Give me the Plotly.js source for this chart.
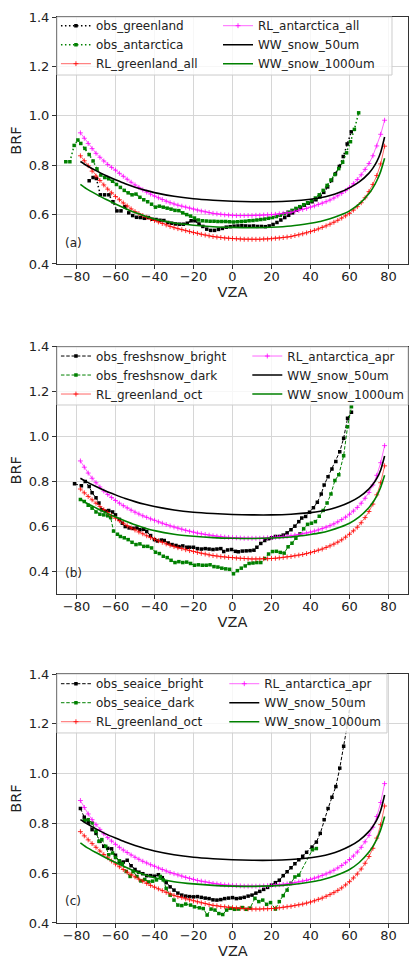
<!DOCTYPE html>
<html>
<head>
<meta charset="utf-8">
<script src="https://cdn.plot.ly/plotly-3.0.1.min.js"></script>
<style>
html,body{margin:0;padding:0;background:#ffffff;}
#chart{width:409px;height:959px;}
</style>
</head>
<body>
<div id="chart"></div>
<script>
// ---------------- DATA ----------------
const vza_ticks = [-80, -60, -40, -20, 0, 20, 40, 60, 80];
const brf_ticks = [0.4, 0.6, 0.8, 1.0, 1.2, 1.4];

// Model curves (WW)
const vza_ww = [-78,-75,-70,-65,-60,-55,-50,-45,-40,-30,-20,-10,0,10,20,30,40,45,50,55,60,65,70,72,74,76,78];
const ww_snow_50um = [0.815,0.800,0.778,0.758,0.741,0.725,0.711,0.699,0.689,0.674,0.664,0.658,0.654,0.652,0.652,0.655,0.662,0.668,0.677,0.690,0.708,0.732,0.768,0.788,0.814,0.852,0.914];
const ww_snow_1000um = [0.722,0.705,0.683,0.662,0.643,0.625,0.608,0.594,0.582,0.566,0.557,0.551,0.548,0.547,0.549,0.554,0.565,0.572,0.583,0.597,0.615,0.643,0.685,0.708,0.737,0.775,0.828];

// RL curves
const vza_rl = [-78,-76,-74,-72,-70,-68,-66,-64,-62,-60,-58,-56,-54,-52,-50,-48,-46,-44,-42,-40,-38,-36,-34,-32,-30,-28,-26,-24,-22,-20,-18,-16,-14,-12,-10,-8,-6,-4,-2,0,2,4,6,8,10,12,14,16,18,20,22,24,26,28,30,32,34,36,38,40,42,44,46,48,50,52,54,56,58,60,62,64,66,68,70,72,74,76,78];
const rl_greenland_all = [0.838,0.818,0.798,0.776,0.756,0.738,0.720,0.703,0.688,0.673,
  0.660,0.647,0.635,0.623,0.612,0.604,0.596,0.589,0.582,0.576,
  0.570,0.564,0.558,0.552,0.547,0.543,0.539,0.535,0.531,0.527,
  0.524,0.520,0.517,0.514,0.511,0.509,0.507,0.505,0.504,0.503,
  0.502,0.501,0.500,0.500,0.500,0.500,0.500,0.501,0.501,0.502,
  0.504,0.505,0.507,0.509,0.511,0.515,0.518,0.522,0.526,0.531,
  0.536,0.542,0.548,0.554,0.561,0.569,0.577,0.586,0.595,0.605,
  0.618,0.632,0.648,0.668,0.693,0.722,0.758,0.805,0.877];
const rl_antarctica_all = [0.931,0.909,0.888,0.867,0.848,0.832,0.817,0.803,0.791,0.780,
  0.767,0.755,0.743,0.731,0.720,0.710,0.700,0.691,0.683,0.675,
  0.668,0.661,0.654,0.648,0.643,0.638,0.634,0.630,0.626,0.622,
  0.618,0.614,0.611,0.608,0.605,0.603,0.601,0.599,0.598,0.597,
  0.596,0.596,0.596,0.596,0.596,0.597,0.597,0.598,0.599,0.600,
  0.601,0.603,0.605,0.607,0.609,0.613,0.617,0.621,0.625,0.630,
  0.635,0.641,0.646,0.652,0.659,0.667,0.676,0.686,0.697,0.710,
  0.725,0.742,0.761,0.783,0.807,0.838,0.878,0.925,0.982];
const rl_antarctica_apr = [0.892,0.864,0.838,0.815,0.795,0.776,0.758,0.743,0.729,0.716,
  0.704,0.693,0.683,0.673,0.664,0.656,0.648,0.641,0.634,0.628,
  0.621,0.615,0.609,0.603,0.598,0.593,0.588,0.583,0.579,0.575,
  0.571,0.568,0.565,0.562,0.559,0.557,0.555,0.553,0.552,0.551,
  0.550,0.549,0.548,0.548,0.548,0.548,0.548,0.549,0.550,0.551,
  0.552,0.554,0.555,0.557,0.559,0.562,0.565,0.568,0.571,0.575,
  0.580,0.585,0.591,0.597,0.604,0.612,0.621,0.631,0.642,0.655,
  0.669,0.685,0.704,0.726,0.752,0.785,0.828,0.884,0.960];
const rl_greenland_oct = [0.767,0.750,0.734,0.719,0.704,0.689,0.675,0.662,0.649,0.637,
  0.626,0.615,0.604,0.594,0.585,0.576,0.568,0.559,0.551,0.544,
  0.537,0.530,0.523,0.517,0.511,0.506,0.502,0.497,0.493,0.489,
  0.485,0.481,0.478,0.474,0.471,0.469,0.466,0.465,0.463,0.462,
  0.460,0.459,0.458,0.457,0.456,0.456,0.456,0.457,0.457,0.458,
  0.459,0.461,0.463,0.465,0.467,0.470,0.473,0.476,0.480,0.484,
  0.489,0.495,0.500,0.507,0.514,0.522,0.531,0.541,0.553,0.566,
  0.581,0.597,0.617,0.640,0.667,0.700,0.741,0.795,0.870];

// Observations, panel (a)
const vza_obs_greenland = [-73.5,-71.5,-69.8,-67.8,-65.6,-63.4,-61.3,-59.3,-57.2,
  -55.2,-53.2,-51.2,-49.2,-47.2,-45.2,-43.2,-41.2,-39.2,-37.2,-35.2,-33.2,-31.2,-29.2,-27.2,-25.2,-23.2,-21.2,-19.2,-17.2,-15.2,-13.2,-11.2,-9.2,-7.2,-5.2,-3.2,-1.2,
  0.8,2.8,4.8,6.8,8.8,10.8,12.8,14.8,16.8,18.8,20.8,22.8,24.8,26.8,28.8,30.8,32.8,34.8,36.8,38.8,40.8,42.8,44.8,46.8,48.8,50.8,52.8,54.8,56.8,58.8,
  60.9];
const obs_greenland = [0.737,0.750,0.746,0.680,0.680,0.680,0.652,0.615,0.615,
  0.632,0.607,0.596,0.589,0.588,0.585,0.588,0.581,0.580,0.577,0.576,0.568,0.565,0.562,0.561,0.561,0.565,0.575,0.575,0.562,0.552,0.541,0.536,0.536,0.540,0.544,0.549,0.551,
  0.553,0.554,0.555,0.554,0.553,0.554,0.552,0.552,0.551,0.554,0.560,0.568,0.578,0.588,0.597,0.607,0.618,0.628,0.638,0.646,0.652,0.660,0.672,0.690,0.712,0.738,0.765,0.795,0.835,0.886,
  0.935];
const vza_obs_antarctica = [-85.5,-83.4,-81.2,-79.3,-77.8,-75.7,-73.5,-71.5,
  -69.5,-67.5,-65.5,-63.5,-61.5,-59.5,-57.5,-55.5,-53.5,-51.5,-49.5,-47.5,-45.5,-43.5,-41.5,-39.5,-37.5,-35.5,-33.5,-31.5,-29.5,-27.5,-25.5,-23.5,-21.5,-19.5,-17.5,-15.5,-13.5,-11.5,-9.5,-7.5,-5.5,-3.5,-1.5,
  0.5,2.5,4.5,6.5,8.5,10.5,12.5,14.5,16.5,18.5,20.5,22.5,24.5,26.5,28.5,30.5,32.5,34.5,36.5,38.5,40.5,42.5,44.5,46.5,48.5,50.5,52.5,54.5,56.5,58.5,60.5,62.5,
  64.7];
const obs_antarctica = [0.814,0.814,0.880,0.902,0.888,0.868,0.843,0.817,
  0.785,0.760,0.750,0.745,0.735,0.722,0.710,0.698,0.688,0.680,0.683,0.670,0.660,0.652,0.642,0.630,0.634,0.630,0.626,0.622,0.617,0.616,0.607,0.600,0.594,0.586,0.578,0.575,0.574,0.573,0.573,0.572,0.572,0.572,0.571,
  0.570,0.571,0.572,0.573,0.575,0.576,0.578,0.580,0.582,0.585,0.588,0.592,0.597,0.603,0.610,0.617,0.625,0.632,0.640,0.648,0.656,0.667,0.680,0.698,0.718,0.740,0.762,0.786,0.812,0.850,0.895,0.945,
  1.012];

// Observations, panel (b)
const vza_obs_freshsnow_bright = [-81,-77.5,-75.5,-73.5,-72,-70,-68.5,-67,-65,-63.5,
  -61.5,-60,-58,-56.5,-55,-53,-51,-49,-47.5,-45.5,
  -44,-42,-40,-38.5,-36.5,-35,-33,-31,-29,-27.5,
  -25.5,-23.5,-22,-20,-18,-16,-14,-12,-10,-8,
  -6,-4.5,-2.5,-0.5,1.5,3,5,7,9,11,
  12.5,14.5,16.5,18.5,20,22,24,26,28,30,
  32,34,35.5,37.5,39.5,41.5,43.5,45.5,47,49,
  51,53,55,57,59,61];
const obs_freshsnow_bright = [0.790,0.782,0.800,0.778,0.750,0.728,0.705,0.675,0.668,0.672,
  0.665,0.652,0.632,0.615,0.600,0.594,0.592,0.594,0.586,0.588,
  0.578,0.560,0.542,0.536,0.540,0.538,0.527,0.520,0.516,0.511,
  0.514,0.508,0.508,0.508,0.502,0.500,0.502,0.500,0.498,0.500,
  0.502,0.489,0.496,0.498,0.490,0.488,0.491,0.492,0.493,0.495,
  0.508,0.525,0.538,0.546,0.550,0.556,0.556,0.562,0.572,0.586,
  0.602,0.622,0.638,0.645,0.664,0.684,0.708,0.745,0.785,0.822,
  0.856,0.889,0.933,0.993,1.082,1.108];
const vza_obs_freshsnow_dark = [-78,-76,-74,-72,-70,-68,-66,-64,-62.5,-61,
  -59,-57.5,-55.5,-53.5,-51.5,-49.5,-47.5,-45.5,-43.5,-41.5,
  -39.5,-37.5,-35.5,-33.5,-31.5,-29.5,-27.5,-25.5,-23.5,-21.5,
  -19.5,-17.5,-15.5,-13.5,-11.5,-9.5,-7.5,-5.5,-3.5,-1.5,
  0.5,2.5,4.5,6.5,8.5,10.5,12.5,14.5,16.5,18.5,
  20.5,22.5,24.5,26.5,28.5,30.5,32.5,34.5,36.5,38.5,
  40.5,42.5,44.5,46.5,48.5,50.5,52.5,54.5,57,59,
  61];
const obs_freshsnow_dark = [0.720,0.712,0.695,0.682,0.665,0.655,0.652,0.648,0.640,0.580,
  0.566,0.556,0.550,0.542,0.530,0.520,0.523,0.512,0.512,0.505,
  0.486,0.480,0.468,0.462,0.450,0.440,0.444,0.440,0.442,0.436,
  0.428,0.430,0.428,0.428,0.430,0.422,0.420,0.415,0.412,0.410,
  0.390,0.404,0.415,0.425,0.436,0.438,0.440,0.440,0.458,0.478,
  0.489,0.490,0.485,0.482,0.510,0.526,0.548,0.568,0.590,0.610,
  0.615,0.622,0.646,0.672,0.705,0.745,0.805,0.830,0.915,1.044,
  1.133];

// Observations, panel (c)
const vza_obs_seaice_bright = [-78,-76,-74,-72,-70,-68,-66,-64,-62,-60,
  -58,-56,-54,-52,-50,-48,-46,-44,-42,-40,
  -38,-36,-34,-32,-30,-28,-26,-24,-22,-20,
  -18,-16,-14,-12,-10,-8,-6,-4,-2,0,
  2,4,6,8,10,12,14,16,18,20,
  22,24,26,28,30,32,34,36,38,
  40.8,43,45,47,49,51,53,55,57,59,60.5];
const obs_seaice_bright = [0.860,0.825,0.805,0.775,0.760,0.728,0.708,0.700,0.698,0.672,
  0.645,0.645,0.652,0.630,0.615,0.604,0.598,0.590,0.590,0.588,
  0.594,0.582,0.562,0.545,0.532,0.520,0.512,0.508,0.506,0.505,
  0.506,0.503,0.500,0.498,0.493,0.492,0.494,0.498,0.500,0.502,
  0.498,0.500,0.503,0.508,0.512,0.520,0.527,0.535,0.543,0.552,
  0.562,0.572,0.590,0.606,0.622,0.638,0.654,0.668,0.684,
  0.705,0.725,0.760,0.815,0.860,0.905,0.948,1.022,1.110,1.200,1.290];
const vza_obs_seaice_dark = [-76,-74,-72,-70,-68.5,-67,-65,-63.5,-61.5,-60,
  -58,-56.5,-54.5,-52.5,-51,-49,-47,-45,-43,-41,
  -39,-37,-35.5,-34,-32,-30,-28,-26,-24,-21.5,
  -19.5,-17,-15,-13,-11,-9,-7,-5,-3,-1,
  1,3,5,7,9,11.5,13.5,15.5,17.5,19.5,
  22,24,26,28,30,32,34,41,43];
const obs_seaice_dark = [0.812,0.815,0.802,0.768,0.728,0.735,0.708,0.674,0.681,0.663,
  0.650,0.638,0.607,0.587,0.607,0.587,0.569,0.575,0.565,0.568,
  0.573,0.587,0.573,0.539,0.512,0.492,0.472,0.470,0.476,0.472,
  0.465,0.461,0.458,0.432,0.456,0.452,0.438,0.434,0.452,0.459,
  0.455,0.456,0.462,0.455,0.460,0.499,0.486,0.492,0.475,0.482,
  0.456,0.486,0.510,0.532,0.560,0.585,0.592,0.694,0.699];

// ---------------- STYLE / TRACES ----------------
const FONT = 'DejaVu Sans, sans-serif';
const GREEN = '#008000';

function obsTrace(name, x, y, color, dash, width, xa, ya, leg) {
  return {type: 'scatter', mode: 'lines+markers', name: name, x: x, y: y,
    xaxis: xa, yaxis: ya, legend: leg,
    line: {color: color, dash: dash, width: width},
    marker: {color: color, symbol: 'square', size: 3.5, line: {width: 0}}};
}
function rlTrace(name, x, y, rgb, xa, ya, leg) {
  return {type: 'scatter', mode: 'lines+markers', name: name, x: x, y: y,
    xaxis: xa, yaxis: ya, legend: leg,
    line: {color: 'rgba(' + rgb + ',0.6)', width: 1},
    marker: {symbol: 'cross-thin-open', size: 3.5, color: 'rgba(' + rgb + ',0.9)',
      line: {width: 0.9, color: 'rgba(' + rgb + ',0.9)'}}};
}
function wwTrace(name, x, y, color, xa, ya, leg) {
  return {type: 'scatter', mode: 'lines', name: name, x: x, y: y,
    xaxis: xa, yaxis: ya, legend: leg,
    line: {color: color, width: 1.6, shape: 'spline', smoothing: 0.6}};
}

const DOT = '1.5px,2.5px';
const DASH = '3.5px,1.8px';

const traces = [
  // (a)
  obsTrace('obs_greenland', vza_obs_greenland, obs_greenland, '#000000', DOT, 1.5, 'x', 'y', 'legend'),
  obsTrace('obs_antarctica', vza_obs_antarctica, obs_antarctica, GREEN, DOT, 1.5, 'x', 'y', 'legend'),
  rlTrace('RL_greenland_all', vza_rl, rl_greenland_all, '255,0,0', 'x', 'y', 'legend'),
  rlTrace('RL_antarctica_all', vza_rl, rl_antarctica_all, '255,0,255', 'x', 'y', 'legend2'),
  wwTrace('WW_snow_50um', vza_ww, ww_snow_50um, '#000000', 'x', 'y', 'legend2'),
  wwTrace('WW_snow_1000um', vza_ww, ww_snow_1000um, GREEN, 'x', 'y', 'legend2'),
  // (b)
  obsTrace('obs_freshsnow_bright', vza_obs_freshsnow_bright, obs_freshsnow_bright, '#000000', DASH, 1, 'x2', 'y2', 'legend3'),
  obsTrace('obs_freshsnow_dark', vza_obs_freshsnow_dark, obs_freshsnow_dark, GREEN, DASH, 1, 'x2', 'y2', 'legend3'),
  rlTrace('RL_greenland_oct', vza_rl, rl_greenland_oct, '255,0,0', 'x2', 'y2', 'legend3'),
  rlTrace('RL_antarctica_apr', vza_rl, rl_antarctica_apr, '255,0,255', 'x2', 'y2', 'legend4'),
  wwTrace('WW_snow_50um', vza_ww, ww_snow_50um, '#000000', 'x2', 'y2', 'legend4'),
  wwTrace('WW_snow_1000um', vza_ww, ww_snow_1000um, GREEN, 'x2', 'y2', 'legend4'),
  // (c)
  obsTrace('obs_seaice_bright', vza_obs_seaice_bright, obs_seaice_bright, '#000000', DASH, 1, 'x3', 'y3', 'legend5'),
  obsTrace('obs_seaice_dark', vza_obs_seaice_dark, obs_seaice_dark, GREEN, DASH, 1, 'x3', 'y3', 'legend5'),
  rlTrace('RL_greenland_oct', vza_rl, rl_greenland_oct, '255,0,0', 'x3', 'y3', 'legend5'),
  rlTrace('RL_antarctica_apr', vza_rl, rl_antarctica_apr, '255,0,255', 'x3', 'y3', 'legend6'),
  wwTrace('WW_snow_50um', vza_ww, ww_snow_50um, '#000000', 'x3', 'y3', 'legend6'),
  wwTrace('WW_snow_1000um', vza_ww, ww_snow_1000um, GREEN, 'x3', 'y3', 'legend6')
];

const TITLE_FONT = {family: FONT, size: 14.5, color: '#222222'};

function xAxis(anchor, withTitle) {
  const ax = {anchor: anchor, domain: [0, 1], range: [-90, 90], tickvals: vza_ticks,
    showline: true, mirror: true, linecolor: '#333333', linewidth: 1,
    ticks: 'outside', ticklen: 4, tickwidth: 1, tickcolor: '#333333', ticklabelstandoff: -4,
    showgrid: true, gridcolor: '#d6d6d6', gridwidth: 1, zeroline: false,
    tickfont: {family: FONT, size: 13, color: '#222222'}};
  if (withTitle) ax.title = {text: 'VZA', font: TITLE_FONT, standoff: 0};
  return ax;
}
function yAxis(anchor, domain, range) {
  return {anchor: anchor, domain: domain, range: range, tickvals: brf_ticks, tickformat: '.1f',
    showline: true, mirror: true, linecolor: '#333333', linewidth: 1,
    ticks: 'outside', ticklen: 4, tickwidth: 1, tickcolor: '#333333',
    showgrid: true, gridcolor: '#d6d6d6', gridwidth: 1, zeroline: false,
    tickfont: {family: FONT, size: 13, color: '#222222'},
    title: {text: 'BRF', font: TITLE_FONT, standoff: 3}};
}
function legendAt(x, y) {
  return {x: x, y: y, xanchor: 'left', yanchor: 'top', orientation: 'v',
    bgcolor: 'rgba(0,0,0,0)', borderwidth: 0, tracegroupgap: 0,
    font: {family: FONT, size: 12, color: '#222222'}};
}
function box(x0, y0, x1, y1) {
  return {type: 'rect', xref: 'paper', yref: 'paper', x0: x0, y0: y0, x1: x1, y1: y1,
    layer: 'above', fillcolor: 'rgba(255,255,255,0.8)', line: {color: '#cccccc', width: 1}};
}
function panelLabel(text, x, y) {
  return {text: text, xref: 'paper', yref: 'paper', x: x, y: y, xanchor: 'center', yanchor: 'middle',
    showarrow: false, font: {family: FONT, size: 12, color: '#222222'}};
}

const layout = {
  width: 409, height: 959,
  margin: {l: 57, r: 1, t: 17, b: 34, autoexpand: false},
  paper_bgcolor: '#ffffff', plot_bgcolor: '#ffffff',
  font: {family: FONT, color: '#222222'},
  showlegend: true,
  xaxis: xAxis('y', true), yaxis: yAxis('x', [0.728, 1.0], [0.4, 1.4]),
  xaxis2: xAxis('y2', true), yaxis2: yAxis('x2', [0.3645, 0.6369], [0.3, 1.4]),
  xaxis3: xAxis('y3', false), yaxis3: yAxis('x3', [0.0022, 0.2764], [0.4, 1.4]),
  legend: legendAt(-0.003, 1.0064), legend2: legendAt(0.4587, 1.0064),
  legend3: legendAt(-0.003, 0.6426), legend4: legendAt(0.5422, 0.6426),
  legend5: legendAt(-0.003, 0.2817), legend6: legendAt(0.4766, 0.2817),
  shapes: [box(0, 0.9361, 0.9544, 1.0), box(0, 0.5727, 1.0, 0.6366), box(0, 0.2115, 0.9402, 0.2764)],
  annotations: [
    panelLabel('(a)', 0.0484, 0.7511), panelLabel('(b)', 0.0456, 0.3873), panelLabel('(c)', 0.0456, 0.0264),
    // x-axis title of the bottom panel (annotation so it can sit right at the page edge like the original)
    {text: 'VZA', xref: 'paper', yref: 'paper', x: 0.5, y: -0.0281, xanchor: 'center', yanchor: 'middle',
     borderpad: 0, showarrow: false, font: TITLE_FONT}
  ]
};

Plotly.newPlot('chart', traces, layout, {displayModeBar: false, responsive: false});
</script>
</body>
</html>
